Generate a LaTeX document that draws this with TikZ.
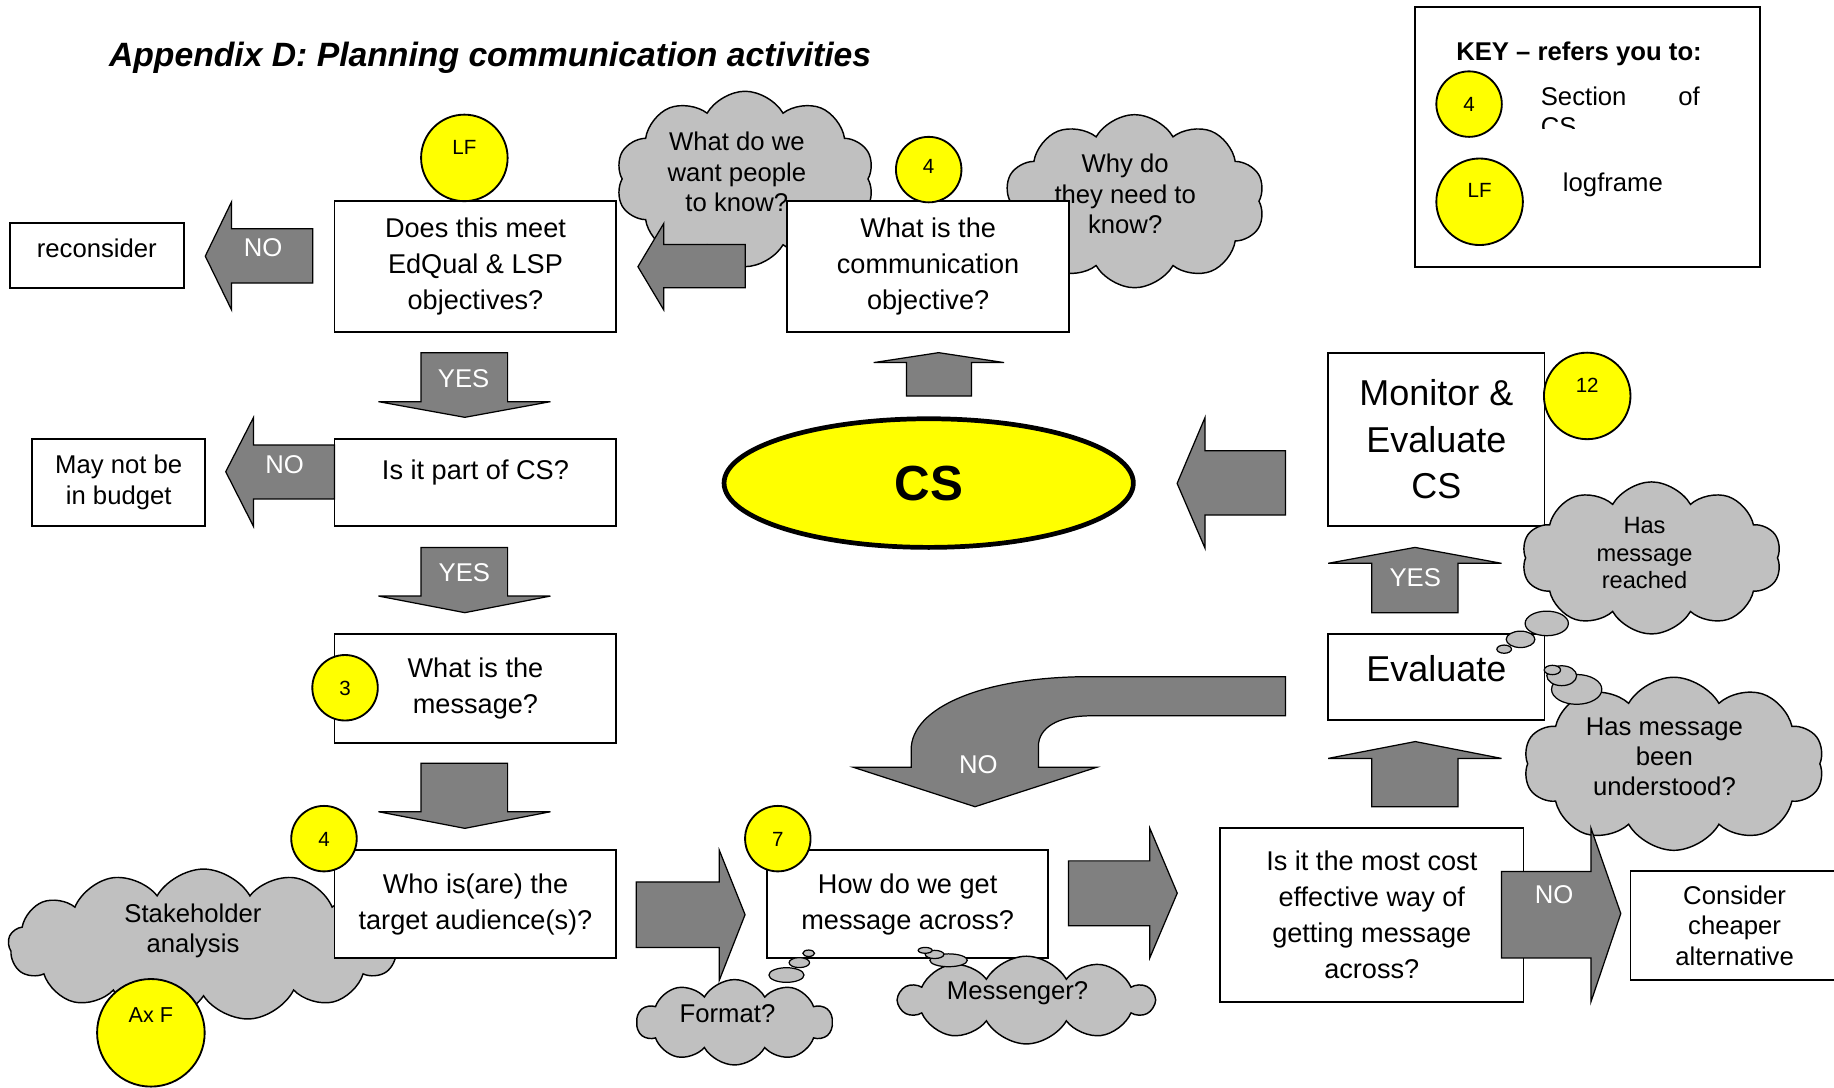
\documentclass[tikz,border=0pt]{standalone}
\usepackage{fontspec}
\setmainfont{Liberation Sans}
\usetikzlibrary{shapes.geometric,shapes.symbols}
\definecolor{arrowgray}{HTML}{808080}
\definecolor{cloudgray}{HTML}{C0C0C0}
\definecolor{refyellow}{HTML}{FFFF00}

\begin{document}
\begin{tikzpicture}[x=0.02cm, y=-0.02cm,
    box/.style={draw,fill=white,line width=0.9pt,align=center,inner sep=0pt,font=\fontsize{13.2}{17.6}\selectfont},
    note/.style={box,font=\fontsize{12.5}{14.8}\selectfont},
    bigbox/.style={box,font=\fontsize{17.5}{22.6}\selectfont},
    thought/.style={cloud,cloud puffs=10,cloud puff arc=120,cloud ignores aspect,draw,fill=cloudgray,line width=0.7pt,inner sep=0pt},
    thoughttext/.style={align=center,inner sep=0pt,font=\fontsize{12.5}{14.8}\selectfont},
    bubble/.style={ellipse,draw,fill=cloudgray,line width=0.6pt,inner sep=0pt},
    ref/.style={circle,draw,fill=refyellow,line width=0.9pt,inner sep=0pt,minimum size=1.12cm,font=\fontsize{10}{12}\selectfont,text height=7.2pt,text depth=0pt},
    bigref/.style={ref,minimum size=1.48cm},
    blockarrow/.style={draw,fill=arrowgray,line width=0.6pt},
    arrowtext/.style={text=white,inner sep=0pt,font=\fontsize{12.5}{14}\selectfont}]

\useasboundingbox (0,0) rectangle (1568,930);

\node[thought,minimum width=4.42cm,minimum height=3cm] (want) at (637,153) {};
\node[thoughttext] (wanttext) at (630,147) {What do we\\want people\\to know?};
\node[thought,minimum width=4.46cm,minimum height=2.96cm] (why) at (970,172) {};
\node[thoughttext] (whytext) at (962,166) {Why do\\they need to\\know?};
\node[thought,cloud puffs=13,minimum width=6.68cm,minimum height=2.6cm] (stake) at (174,808) {};
\node[thoughttext] (staketext) at (165,796) {Stakeholder\\analysis};

\node[note,minimum width=2.97cm,minimum height=1.11cm,text height=9pt,text depth=6.9pt] (recon) at (82.75,218.25) {reconsider};
\node[box,minimum width=4.82cm,minimum height=2.24cm] (meet) at (406.5,228) {Does this meet\\EdQual \& LSP\\objectives?};
\node[box,minimum width=4.82cm,minimum height=2.24cm] (objective) at (793.5,228) {What is the\\communication\\objective?};
\node[box,minimum width=4.82cm,minimum height=1.5cm,text height=9.5pt,text depth=12.7pt] (partcs) at (406.5,412.5) {Is it part of CS?};
\node[note,minimum width=2.96cm,minimum height=1.5cm] (budget) at (101.5,412.5) {May not be\\in budget};
\node[box,minimum width=4.82cm,minimum height=1.86cm] (message) at (406.5,588.5) {What is the\\message?};
\node[box,minimum width=4.82cm,minimum height=1.84cm] (audience) at (406.5,773) {Who is(are) the\\target audience(s)?};
\node[box,minimum width=4.8cm,minimum height=1.84cm] (across) at (776,773) {How do we get\\message across?};
\node[box,minimum width=5.19cm,minimum height=2.97cm] (costly) at (1172.8,782.25) {Is it the most cost\\effective way of\\getting message\\across?};
\node[note,minimum width=3.56cm,minimum height=1.86cm] (cheaper) at (1483,791.5) {Consider\\cheaper\\alternative};
\node[bigbox,minimum width=3.7cm,minimum height=2.964cm] (monitor) at (1228,375.6) {Monitor \&\\Evaluate\\CS};
\node[bigbox,minimum width=3.7cm,minimum height=1.472cm,text height=13pt,text depth=8.5pt] (evaluate) at (1228,578.8) {Evaluate};

\node[draw,fill=white,line width=0.9pt,minimum width=5.9cm,minimum height=4.446cm] (keybox) at (1357.5,116.9) {};
\node[inner sep=0pt,font=\bfseries\fontsize{12.5}{14}\selectfont] (keytitle) at (1350,46) {KEY -- refers you to:};
\node[ref] (keyfour) at (1256,89) {4};
\begin{scope}
\clip (1300,60) rectangle (1480,109.5);
\node[anchor=north west,text width=2.72cm,align=left,inner sep=0pt,font=\fontsize{12.5}{14.8}\selectfont] (keysection) at (1317,74) {Section\hfill of\\CS};
\end{scope}
\node[bigref,text depth=11.4pt] (keylf) at (1265,172.5) {LF};
\node[inner sep=0pt,font=\fontsize{12.5}{14.8}\selectfont] (keylog) at (1379,158) {logframe};

\node[thought,minimum width=3.34cm,minimum height=1.46cm] (format) at (628,874) {};
\node[thoughttext] (formattext) at (622,867) {Format?};
\node[thought,minimum width=4.34cm,minimum height=1.5cm] (messenger) at (877.5,855) {};
\node[thoughttext] (messengertext) at (870,849) {Messenger?};
\node[thought,minimum width=4.44cm,minimum height=2.6cm] (reached) at (1412,477) {};
\node[thoughttext,font=\fontsize{11.5}{13.4}\selectfont] (reachedtext) at (1406,473) {Has\\message\\reached};
\node[thought,minimum width=5.14cm,minimum height=2.96cm] (understood) at (1431,653) {};
\node[thoughttext] (understoodtext) at (1423,647) {Has message\\been\\understood?};

\node[bubble,minimum width=0.74cm,minimum height=0.42cm] (ra) at (1322.4,533) {};
\node[bubble,minimum width=0.49cm,minimum height=0.28cm] (rb) at (1300,546.6) {};
\node[bubble,minimum width=0.25cm,minimum height=0.14cm] (rc) at (1286,555) {};
\node[bubble,minimum width=0.86cm,minimum height=0.51cm] (ua) at (1348,589.4) {};
\node[bubble,minimum width=0.51cm,minimum height=0.34cm] (ub) at (1335.2,577.7) {};
\node[bubble,minimum width=0.28cm,minimum height=0.16cm] (uc) at (1327.2,572.8) {};
\node[bubble,minimum width=0.6cm,minimum height=0.25cm] (fa) at (672.4,833.6) {};
\node[bubble,minimum width=0.35cm,minimum height=0.17cm] (fb) at (683.4,823) {};
\node[bubble,minimum width=0.2cm,minimum height=0.11cm] (fc) at (691.4,815) {};
\node[bubble,minimum width=0.64cm,minimum height=0.22cm] (ma) at (811,821) {};
\node[bubble,minimum width=0.32cm,minimum height=0.14cm] (mb) at (799,816) {};
\node[bubble,minimum width=0.24cm,minimum height=0.1cm] (mc) at (791,812.5) {};

\draw[blockarrow] (175.5,219) -- (198,172.5) -- (198,195.5) -- (267.4,195.5) -- (267.4,242) -- (198,242) -- (198,265) -- cycle;
\node[arrowtext] (noreconsider) at (225,212) {NO};
\draw[blockarrow] (545.4,228) -- (567.5,191) -- (567.5,209) -- (637.2,209) -- (637.2,246) -- (567.5,246) -- (567.5,265) -- cycle;
\draw[blockarrow] (802.5,301.5) -- (858.5,310) -- (830.6,310) -- (830.6,338.6) -- (775,338.6) -- (775,310) -- (747,310) -- cycle;
\draw[blockarrow] (360,301.5) -- (434,301.5) -- (434,343.4) -- (470.6,343.4) -- (397.4,356.8) -- (323.6,343.4) -- (360,343.4) -- cycle;
\node[arrowtext] (yesmeet) at (396.4,323.5) {YES};
\draw[blockarrow] (193,403.3) -- (216.7,357) -- (216.7,380.5) -- (286,380.5) -- (286,426.6) -- (216.7,426.6) -- (216.7,450) -- cycle;
\node[arrowtext] (nobudget) at (243.3,397.6) {NO};
\draw[blockarrow] (360,468) -- (434,468) -- (434,509.6) -- (470.6,509.6) -- (397.4,523.8) -- (323.6,509.6) -- (360,509.6) -- cycle;
\node[arrowtext] (yespart) at (397,489.6) {YES};
\draw[blockarrow] (360,652.6) -- (434,652.6) -- (434,694) -- (470.6,694) -- (397.4,708.2) -- (323.6,694) -- (360,694) -- cycle;
\draw[blockarrow] (544,754) -- (615,754) -- (615,727) -- (637,782) -- (615,838) -- (615,810) -- (544,810) -- cycle;
\draw[blockarrow] (913.6,736) -- (983,736) -- (983,708) -- (1006.5,763.6) -- (983,819) -- (983,791.5) -- (913.6,791.5) -- cycle;
\draw[blockarrow] (1283.7,745) -- (1360.2,745) -- (1360.2,708) -- (1385.7,781) -- (1360.2,856.5) -- (1360.2,819) -- (1283.7,819) -- cycle;
\node[arrowtext] (nocheaper) at (1328.7,765) {NO};
\draw[blockarrow] (1209.8,468) -- (1283.7,481.6) -- (1246.6,481.6) -- (1246.6,523.8) -- (1172.8,523.8) -- (1172.8,481.6) -- (1135.5,481.6) -- cycle;
\node[arrowtext] (yesevaluate) at (1210,494) {YES};
\draw[blockarrow] (1210,634) -- (1283.7,648.4) -- (1246.6,648.4) -- (1246.6,689.7) -- (1172.8,689.7) -- (1172.8,648.4) -- (1135.5,648.4) -- cycle;
\draw[blockarrow] (1006.4,413.3) -- (1030.3,356.8) -- (1030.3,385.3) -- (1099,385.3) -- (1099,440.3) -- (1030.3,440.3) -- (1030.3,468.8) -- cycle;
\draw[blockarrow] (1099,578.5) -- (932,578.5) .. controls (840,578.5) and (779,605) .. (779,641) -- (779,656) -- (729.6,656) -- (833.6,689.7) -- (937.6,656) -- (887.8,656) -- (887.8,638) .. controls (887.8,622) and (905,612) .. (932,612) -- (1099,612) -- cycle;
\node[arrowtext] (noevaluate) at (836.5,654) {NO};

\node[ellipse,draw,fill=refyellow,line width=2.3pt,minimum width=7cm,minimum height=2.2cm,inner sep=0pt,font=\bfseries\fontsize{24}{28}\selectfont] (cs) at (794,413) {CS};

\node[bigref,text depth=10.2pt] (lf) at (397,135) {LF};
\node[ref,text depth=3.4pt] (topfour) at (794,145) {4};
\node[ref] (three) at (295,588) {3};
\node[ref] (lowfour) at (277,717) {4};
\node[ref] (seven) at (665,717) {7};
\node[bigref,text depth=10.8pt] (twelve) at (1357,338.5) {12};
\node[ref,minimum size=1.84cm,font=\fontsize{10.5}{12}\selectfont,text depth=17pt] (axf) at (129,883) {Ax F};

\node[inner sep=0pt,font=\bfseries\itshape\fontsize{16.4}{19}\selectfont] (title) at (419,49) {Appendix D: Planning communication activities};
\end{tikzpicture}
\end{document}
